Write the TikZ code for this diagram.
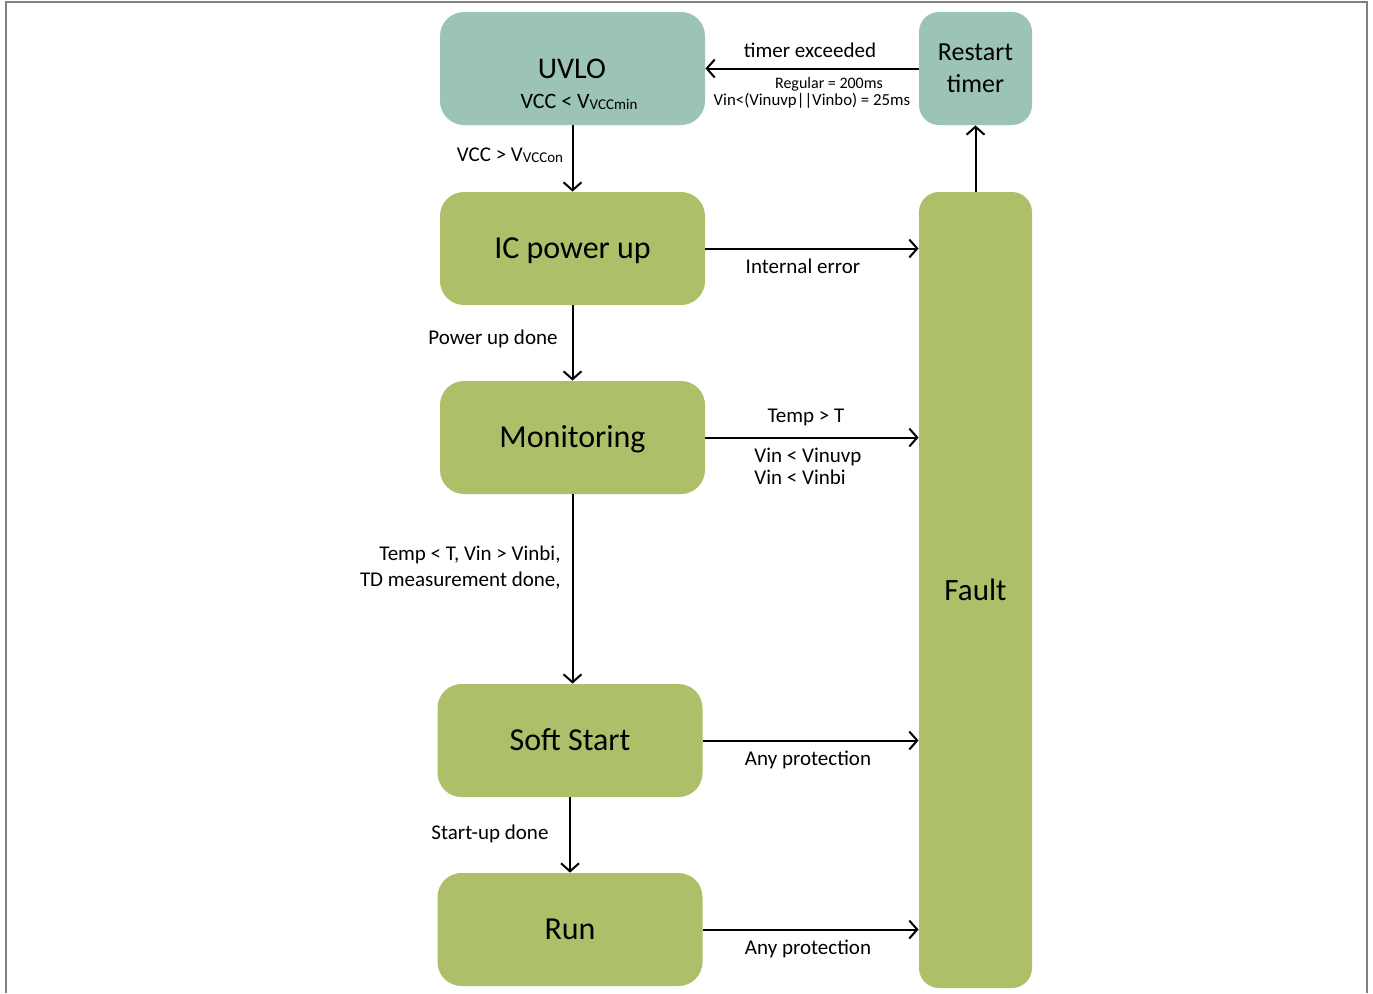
\documentclass[tikz,border=0pt]{standalone}
\usepackage{fontspec}
\setmainfont{Carlito}
\usetikzlibrary{arrows.meta}
\definecolor{uvloteal}{RGB}{155,195,184}
\definecolor{stategreen}{RGB}{174,191,106}
\newcommand{\subv}[1]{\raisebox{-0.5pt}{\fontsize{7.5}{8}\selectfont #1}}
\begin{document}
\begin{tikzpicture}[x=0.5pt,y=-0.5pt]
	\tikzstyle{state}=[rounded corners=12pt,fill=stategreen,minimum width=132.5pt,minimum height=56.5pt,inner sep=0pt,text height=12pt,text depth=1.6pt,font=\fontsize{16}{19}\selectfont]
	\tikzstyle{side}=[rounded corners=10pt,minimum width=56.5pt,inner sep=0pt,align=center]
	\tikzstyle{lbl}=[inner sep=0pt,font=\fontsize{10.5}{13}\selectfont]
	\tikzstyle{small}=[inner sep=0pt,font=\fontsize{8}{9.6}\selectfont]
	\tikzstyle{trans}=[line width=1pt,-{Straight Barb[length=4pt,width=9pt,line width=1pt]}]
	\useasboundingbox (0,0) rectangle (1373,993);
	% frame
	\draw[gray,line width=1pt] (6,993) -- (6,2) -- (1367,2) -- (1367,993);
	% states
	\node[state,fill=uvloteal](uvlo) at (572.5,68.5) {};
	\node[inner sep=0pt,font=\fontsize{15}{18}\selectfont](uvlotitle) at (572,69) {UVLO};
	\node[inner sep=0pt,font=\fontsize{11}{13}\selectfont](uvlocond) at (579,102) {VCC < V\subv{VCCmin}};
	\node[state](icpu) at (572.5,248.5) {IC power up};
	\node[state](mon) at (572.5,437.5) {Monitoring};
	\node[state](ss) at (570,740.5) {Soft Start};
	\node[state](run) at (570,929.5) {Run};
	\node[side,fill=uvloteal,minimum height=56.5pt,font=\fontsize{13}{16}\selectfont](rt) at (975.5,68.5) {Restart\\timer};
	\node[side,fill=stategreen,minimum height=398pt,font=\fontsize{15.5}{18}\selectfont](fault) at (975.5,590) {Fault};
	% transitions
	\draw[trans] (uvlo) -- (icpu);
	\draw[trans] (icpu) -- (mon);
	\draw[trans] (mon.south) -- (mon.south |- ss.north);
	\draw[trans] (ss) -- (run);
	\draw[trans] (icpu.east) -- (icpu.east -| fault.west);
	\draw[trans] (mon.east) -- (mon.east -| fault.west);
	\draw[trans] (ss.east) -- (ss.east -| fault.west);
	\draw[trans] (run.east) -- (run.east -| fault.west);
	\draw[trans] (fault.north) -- (rt.south);
	\draw[trans] (rt.west) -- (uvlo.east);
	% labels
	\node[lbl](lvccon) at (510,155) {VCC > V\subv{VCCon}};
	\node[lbl](lpwr) at (493,339) {Power up done};
	\node[lbl,align=right,anchor=east](lmon) at (561,568) {Temp < T, Vin > Vinbi,\\TD measurement done,};
	\node[lbl](lstart) at (490,834) {Start-up done};
	\node[lbl](lint) at (803,266) {Internal error};
	\node[lbl](ltemp) at (806,417) {Temp > T};
	\node[lbl,align=left,anchor=west,font=\fontsize{10.5}{11}\selectfont](lvin) at (754,466) {Vin < Vinuvp\\Vin < Vinbi};
	\node[lbl](lprot1) at (808,760) {Any protection};
	\node[lbl](lprot2) at (808,949) {Any protection};
	\node[lbl](ltimer) at (810,50) {timer exceeded};
	\node[small](lreg) at (829,84) {Regular = 200ms};
	\node[small,font=\fontsize{8.4}{10}\selectfont](lvinbo) at (812,101) {Vin<(Vinuvp||Vinbo) = 25ms};
\end{tikzpicture}
\end{document}
